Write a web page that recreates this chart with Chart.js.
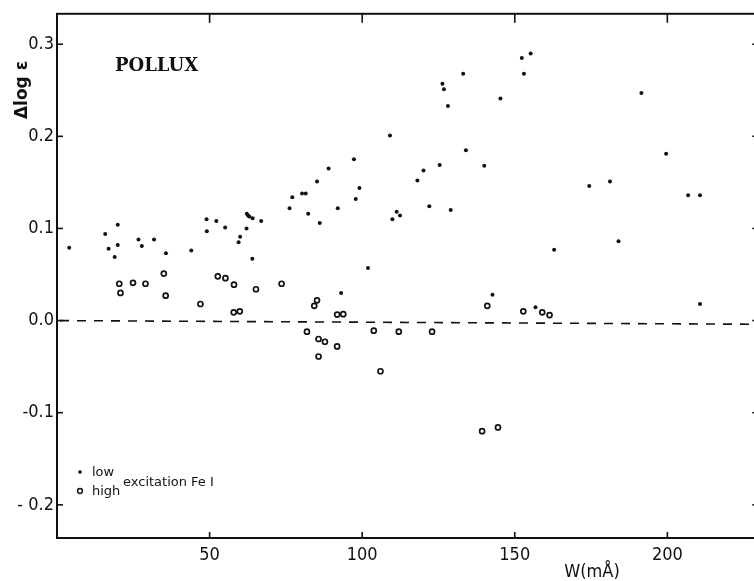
<!DOCTYPE html>
<html>
<head>
<meta charset="utf-8">
<script src="https://cdn.jsdelivr.net/npm/chart.js@4.4.1/dist/chart.umd.min.js"></script>
<style>
  html, body { margin: 0; padding: 0; background: #fff; overflow: hidden; }
  #wrap { width: 754px; height: 581px; overflow: hidden; position: relative; }
  #plot { display: block; position: absolute; left: 0; top: 0; }
</style>
</head>
<body>
<div id="wrap"><canvas id="plot" width="764" height="581"></canvas></div>
<script>
// ───────── data ─────────

// low excitation Fe I (filled dots)
const lowW = [4.0, 15.8, 16.9, 18.9, 19.9, 19.9, 26.7, 27.8, 31.8, 35.7, 44.0, 49.0, 49.1, 52.2, 55.1,
    59.5, 60.0, 62.1, 62.2, 62.6, 63.0, 64.1, 64.0, 66.9, 76.2, 77.1, 80.3, 81.5, 82.3, 85.2, 86.1,
    89.0, 92.0, 93.1, 97.3, 97.9, 99.1, 101.9, 109.1, 109.9, 111.3, 112.4, 118.1, 120.1, 122.0, 125.4,
    126.3, 126.8, 128.1, 129.0, 133.1, 134.0, 140.0, 142.7, 145.3, 152.3, 153.0, 155.2, 156.8, 162.9,
    174.4, 181.2, 184.0, 191.5, 199.6, 206.8, 210.7, 210.7];
const lowD = [0.079, 0.094, 0.078, 0.069, 0.104, 0.082, 0.088, 0.081, 0.088, 0.073, 0.076, 0.110, 0.097, 0.108, 0.101,
    0.085, 0.091, 0.100, 0.116, 0.114, 0.113, 0.111, 0.067, 0.108, 0.122, 0.134, 0.138, 0.138, 0.116, 0.151, 0.106,
    0.165, 0.122, 0.030, 0.175, 0.132, 0.144, 0.057, 0.201, 0.110, 0.118, 0.114, 0.152, 0.163, 0.124, 0.169,
    0.257, 0.251, 0.233, 0.120, 0.268, 0.185, 0.168, 0.028, 0.241, 0.285, 0.268, 0.290, 0.0145, 0.077,
    0.146, 0.151, 0.086, 0.247, 0.181, 0.136, 0.136, 0.018];

// high excitation Fe I (open circles)
const highW = [20.4, 20.8, 24.9, 29.0, 35.0, 35.6, 47.0, 52.7, 55.2, 58.0, 57.9, 59.9, 65.2, 73.6,
    81.9, 84.3, 85.2, 85.7, 85.7, 87.8, 91.8, 91.8, 93.8, 103.8, 106.0, 112.0, 122.9,
    139.3, 141.0, 144.5, 152.8, 159.0, 161.4];
const highD = [0.040, 0.030, 0.041, 0.040, 0.051, 0.027, 0.018, 0.048, 0.046, 0.039, 0.009, 0.010, 0.034, 0.040,
    -0.012, 0.016, 0.022, -0.020, -0.039, -0.023, 0.0065, -0.028, 0.007, -0.011, -0.055, -0.012, -0.012,
    -0.120, 0.016, -0.116, 0.010, 0.009, 0.006];

// dashed reference line (scan is a little tilted)
const zeroW = [0, 229.8];
const zeroD = [0, -0.004];

// axes
const xTicks = [50, 100, 150, 200];
const yTicks = [-0.2, -0.1, 0.0, 0.1, 0.2, 0.3];
const yTickLabels = ['- 0.2', '-0.1', '0.0', '0.1', '0.2', '0.3'];

const INK = '#111';
const AXIS_FONT = "'DejaVu Sans Condensed', 'Liberation Sans Narrow', 'Liberation Sans', sans-serif";

const toPoints = (xs, ys) => xs.map((w, i) => ({ x: w, y: ys[i] }));

// ─ frame, inward ticks and the loose labels
const frameAndLabels = {
    id: 'frameAndLabels',
    afterDraw(chart) {
        const { ctx, chartArea: a, scales: { x, y } } = chart;
        const line = (x1, y1, x2, y2) => {
            ctx.beginPath(); ctx.moveTo(x1, y1); ctx.lineTo(x2, y2); ctx.stroke();
        };
        ctx.save();
        ctx.strokeStyle = INK;
        ctx.lineWidth = 2;
        ctx.strokeRect(a.left, a.top, a.right - a.left, a.bottom - a.top);

        ctx.lineWidth = 1.6;
        xTicks.forEach(v => {
            const px = x.getPixelForValue(v);
            line(px, a.bottom, px, a.bottom - 6);
            line(px, a.top, px, a.top + 9);
        });
        yTicks.forEach(v => {
            const py = y.getPixelForValue(v);
            line(a.left, py, a.left + 6, py);
            line(a.right, py, a.right - 6, py);
        });

        ctx.fillStyle = INK;

        // star name
        ctx.font = "bold 18px 'DejaVu Serif', 'Liberation Serif', serif";
        ctx.textBaseline = 'alphabetic';
        ctx.textAlign = 'left';
        ctx.fillText('POLLUX', 115, 71);

        // y title, rotated
        ctx.save();
        ctx.translate(27, 90);
        ctx.rotate(-Math.PI / 2);
        ctx.font = "bold 17px 'DejaVu Sans', sans-serif";
        ctx.textAlign = 'center';
        ctx.fillText('\u0394log \u03b5', 0, 0);
        ctx.restore();

        // x title
        ctx.font = '18px ' + AXIS_FONT;
        ctx.textAlign = 'center';
        ctx.fillText('W(m\u00c5)', 592, 577);

        // legend
        ctx.beginPath(); ctx.arc(80, 472, 1.8, 0, Math.PI * 2); ctx.fill();
        ctx.lineWidth = 1.5;
        ctx.beginPath(); ctx.arc(80, 491, 2.4, 0, Math.PI * 2); ctx.stroke();
        ctx.textAlign = 'left';
        ctx.font = "13px 'DejaVu Sans', sans-serif";
        ctx.fillText('low', 92, 476);
        ctx.fillText('high', 92, 495);
        ctx.fillText('excitation Fe I', 123, 486);
        ctx.restore();
    }
};

// ─ chart
function initChart() {
    const ctx = document.getElementById('plot').getContext('2d');
    new Chart(ctx, {
        type: 'scatter',
        data: {
            datasets: [
                {
                    label: 'low',
                    data: toPoints(lowW, lowD),
                    pointStyle: 'circle',
                    pointRadius: 2,
                    backgroundColor: INK,
                    borderWidth: 0
                },
                {
                    label: 'high',
                    data: toPoints(highW, highD),
                    pointStyle: 'circle',
                    pointRadius: 2.5,
                    backgroundColor: 'rgba(0,0,0,0)',
                    borderColor: INK,
                    borderWidth: 1.7
                },
                {
                    label: 'zero',
                    data: toPoints(zeroW, zeroD),
                    showLine: true,
                    pointRadius: 0,
                    borderColor: INK,
                    borderWidth: 1.6,
                    borderDash: [9, 8],
                    borderDashOffset: -3
                }
            ]
        },
        options: {
            responsive: false,
            animation: false,
            layout: { padding: { left: 0, right: 4, top: 13, bottom: 0 } },
            plugins: { legend: { display: false }, tooltip: { enabled: false } },
            scales: {
                x: {
                    type: 'linear',
                    min: 0,
                    max: 229.8,
                    grid: { display: false, drawTicks: false },
                    border: { display: false },
                    afterBuildTicks: s => { s.ticks = xTicks.map(v => ({ value: v })); },
                    afterFit: s => { s.height = 43; },
                    ticks: {
                        padding: 7,
                        color: INK,
                        font: { family: AXIS_FONT, size: 18 },
                        callback: v => String(v)
                    }
                },
                y: {
                    type: 'linear',
                    min: -0.236,
                    max: 0.333,
                    grid: { display: false, drawTicks: false },
                    border: { display: false },
                    afterBuildTicks: s => { s.ticks = yTicks.map(v => ({ value: v })); },
                    afterFit: s => { s.width = 57; },
                    ticks: {
                        padding: 3,
                        color: INK,
                        font: { family: AXIS_FONT, size: 18 },
                        callback: (v, i) => yTickLabels[i]
                    }
                }
            }
        },
        plugins: [frameAndLabels]
    });
}

document.addEventListener('DOMContentLoaded', initChart);
</script>
</body>
</html>
